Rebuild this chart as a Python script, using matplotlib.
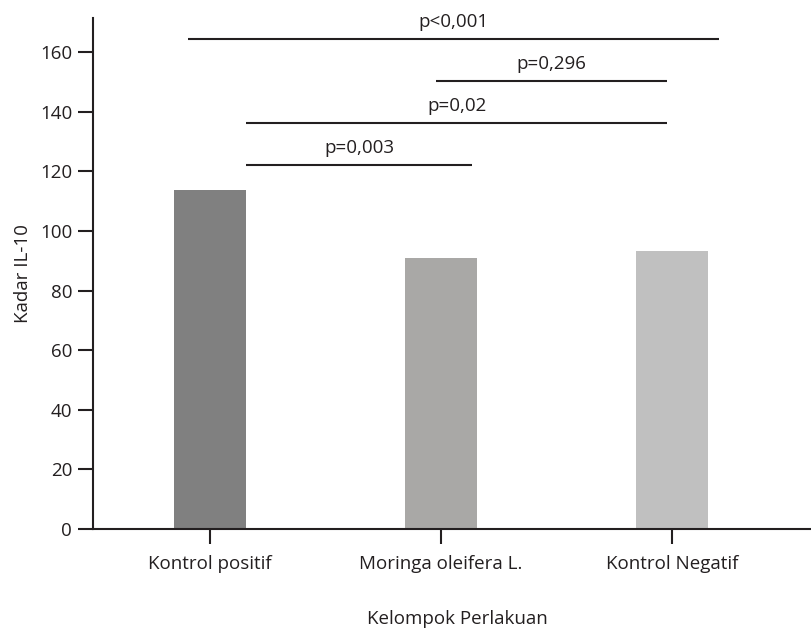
import matplotlib
matplotlib.use("Agg")
import matplotlib.pyplot as plt

plt.rcParams['font.family'] = ['Open Sans', 'DejaVu Sans']

categories = ["Kontrol positif", "Moringa oleifera L.", "Kontrol Negatif"]
values = [113.8, 90.9, 93.3]
bar_colors = ["#808080", "#a9a8a6", "#c0c0c0"]
yticks = [0, 20, 40, 60, 80, 100, 120, 140, 160]

# significance brackets: (x start, x end, y level, label), x in category units
brackets = [
    (-0.095, 2.20, 164.4, "p<0,001"),
    (0.978, 1.978, 150.3, "p=0,296"),
    (0.156, 1.978, 136.2, "p=0,02"),
    (0.156, 1.134, 122.1, "p=0,003"),
]

W, H = 811, 630
FS = 13.5
fig = plt.figure(figsize=(W / 100, H / 100), dpi=100)
ax = fig.add_axes([93 / W, (H - 529) / H, (811 - 93) / W, (529 - 18) / H])

x = list(range(len(categories)))
ax.bar(x, values, width=0.31, color=bar_colors, zorder=1)

line_color = "#231f20"
for x0, x1, y, lab in brackets:
    ax.plot([x0, x1], [y, y], color=line_color, lw=1.5, solid_capstyle='butt')
    ax.text((x0 + x1) / 2, y + 2.6, lab, ha='center', va='bottom',
            fontsize=FS, color=line_color)

ax.set_xlim(-0.506, 2.60)
ax.set_ylim(0, 171.5)
ax.set_xticks(x)
ax.set_xticklabels(categories, fontsize=FS, color=line_color)
ax.set_yticks(yticks)
ax.set_yticklabels([str(t) for t in yticks], fontsize=FS, color=line_color)

for s in ['top', 'right']:
    ax.spines[s].set_visible(False)
for s in ['left', 'bottom']:
    ax.spines[s].set_linewidth(1.5)
    ax.spines[s].set_color(line_color)
ax.tick_params(axis='both', direction='out', length=11, width=1.5, color=line_color)
ax.tick_params(axis='x', pad=8)
ax.tick_params(axis='y', pad=4)

ax.set_ylabel("Kadar IL-10", fontsize=FS, color=line_color, labelpad=6)
fig.text(457 / W, 1.5 / H, "Kelompok Perlakuan", ha='center', va='bottom',
         fontsize=FS, color=line_color)

fig.savefig("out.png", dpi=100)
